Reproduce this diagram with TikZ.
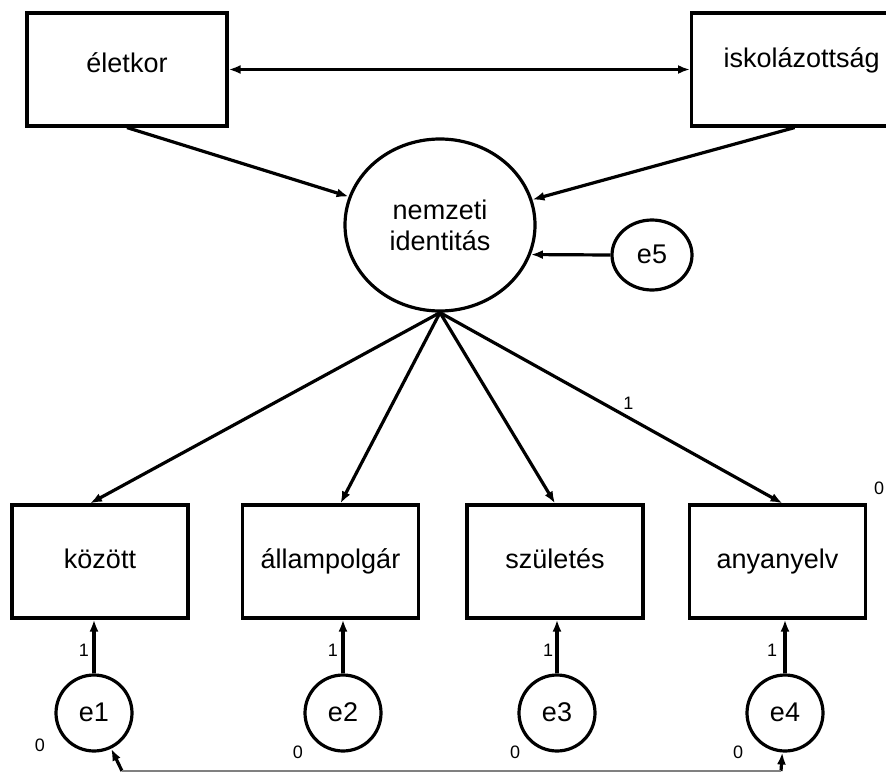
\documentclass[tikz,border=0pt]{standalone}
\usepackage{fontspec}
\setmainfont{Liberation Sans}
\usetikzlibrary{shapes.geometric,arrows.meta}
\begin{document}
\begin{tikzpicture}[x=1pt,y=-1pt,
  every node/.style={font=\fontsize{27}{31}\selectfont},
  obs/.style={draw,line width=3.2pt,rectangle,inner sep=0pt,minimum width=176pt,minimum height=113pt,text height=19pt,text depth=5pt},
  lat/.style={draw,line width=3.2pt,ellipse,inner sep=0pt},
  err/.style={lat,minimum width=76pt,minimum height=76pt,text height=19pt,text depth=3pt},
  small/.style={font=\fontsize{18}{20}\selectfont,inner sep=0pt},
  conn/.style={line width=3.2pt,-{Latex[length=12pt,width=9pt]}},
  cov/.style={line width=3.2pt,{Latex[length=12pt,width=9pt]}-{Latex[length=12pt,width=9pt]}}]
\clip (0,0) rectangle (886,771);
\useasboundingbox (0,0) rectangle (886,771);
\fill[white] (0,0) rectangle (886,771);
% top exogenous boxes
\node[obs,minimum width=200pt] (elet) at (127,69.5) {\raisebox{4pt}{életkor}};
\node[obs,minimum width=230pt,anchor=west,text width=200pt,align=left] (isk) at (690,69.5) {\raisebox{9pt}{\hspace*{17pt}iskolázottság}};
% latent
\node[lat,minimum width=190pt,minimum height=172pt,align=center] (nem) at (440,225) {nemzeti\\identitás};
\node[lat,minimum width=80pt,minimum height=70pt,text height=19pt,text depth=3pt] (e5) at (652,255) {e5};
% indicators
\node[obs] (koz) at (100,561.5) {között};
\node[obs] (all) at (330.5,561.5) {állampolgár};
\node[obs] (szu) at (555,561.5) {születés};
\node[obs] (any) at (777.5,561.5) {anyanyelv};
% errors
\node[err] (e1) at (94,713) {e1};
\node[err] (e2) at (343,713) {e2};
\node[err] (e3) at (557,713) {e3};
\node[err] (e4) at (785,713) {e4};
% connectors
\draw[cov] (elet.east) -- (isk.west);
\draw[conn] (elet.south) -- (nem);
\draw[conn] ([xshift=-12pt]isk.south) -- (nem);
\draw[conn] (e5.west) -- (nem.-18.6);
\draw[conn] (nem.south) -- ([xshift=-10pt]koz.north);
\draw[conn] (nem.south) -- ([xshift=10pt]all.north);
\draw[conn] (nem.south) -- (szu.north);
\draw[conn] (nem.south) -- ([xshift=5pt]any.north) node[small,pos=0.55,above=6pt] (l1) {1};
\draw[conn] (e1.north) -- (e1.north |- koz.south);
\draw[conn] (e2.north) -- (e2.north |- all.south);
\draw[conn] (e3.north) -- (e3.north |- szu.south);
\draw[conn] (e4.north) -- (e4.north |- any.south);
% covariance e1 - e4 (cut at bottom edge)
\coordinate (c1) at (122,771);
\coordinate (c2) at (781,771);
\draw[conn] (c1) -- (e1);
\draw[conn] (c2) -- (e4);
\draw[gray,line width=1.5pt] (c1) -- (c2);
% labels
\node[small] (w1) at (84,650) {1};
\node[small] (w2) at (333,650) {1};
\node[small] (w3) at (548,650) {1};
\node[small] (w4) at (772,650) {1};
\node[small] (z1) at (40,745) {0};
\node[small] (z2) at (298,752) {0};
\node[small] (z3) at (515,752) {0};
\node[small] (z4) at (738,752) {0};
\node[small] (z5) at (879,488) {0};
\end{tikzpicture}
\end{document}
